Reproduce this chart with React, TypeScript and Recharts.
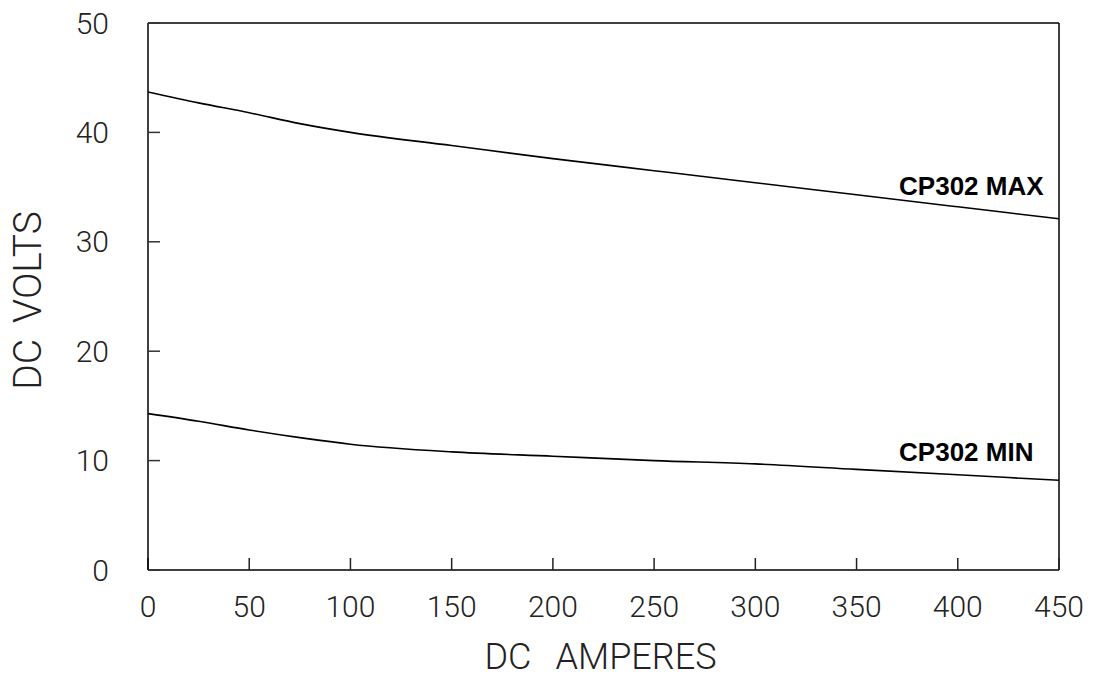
import { LineChart, Line, XAxis, YAxis, ReferenceLine, ReferenceDot, Label } from "recharts";

const amps = [0, 25, 50, 75, 100, 150, 200, 250, 300, 350, 400, 450];
const maxVolts = [43.7, 42.7, 41.8, 40.8, 40.0, 38.8, 37.6, 36.5, 35.4, 34.3, 33.2, 32.1];
const minVolts = [14.3, 13.6, 12.8, 12.1, 11.5, 10.8, 10.4, 10.0, 9.7, 9.2, 8.7, 8.2];

const xTicks = [0, 50, 100, 150, 200, 250, 300, 350, 400, 450];
const yTicks = [0, 10, 20, 30, 40, 50];

const notes = [
  { text: "CP302 MAX", amps: 371, volts: 34.3 },
  { text: "CP302 MIN", amps: 371, volts: 10.0 },
];

const data = amps.map((a, i) => ({ amps: a, max: maxVolts[i], min: minVolts[i] }));

const tickFont = { fontFamily: "Roboto", fontWeight: 300, fontSize: 30, fill: "#222" };
const titleFont = { fontFamily: "Roboto", fontWeight: 300, fontSize: 36, fill: "#222" };

function XTitle({ viewBox }: any) {
  const cx = viewBox.x + viewBox.width / 2 - 3;
  return (
    <text x={cx} y={viewBox.y + 99} textAnchor="middle" style={titleFont}>
      <tspan>DC</tspan>
      <tspan dx={24}>AMPERES</tspan>
    </text>
  );
}

function YTitle({ viewBox }: any) {
  const x = 41;
  const y = viewBox.y + viewBox.height / 2 + 4;
  return (
    <text x={x} y={y} textAnchor="middle" transform={`rotate(-90 ${x} ${y})`} style={{ ...titleFont, fontSize: 39 }}>
      <tspan>DC</tspan>
      <tspan dx={16}>VOLTS</tspan>
    </text>
  );
}

function NoteLabel({ viewBox, value }: any) {
  return (
    <text
      x={viewBox.x}
      y={viewBox.y}
      textAnchor="start"
      style={{ fontFamily: "Liberation Sans", fontWeight: 700, fontSize: 26, fill: "#000" }}
    >
      {value}
    </text>
  );
}

export default function App() {
  return (
    <div style={{ position: "absolute", left: 0, top: 0, background: "#fff" }}>
      <LineChart width={1093} height={679} data={data} margin={{ top: 23, right: 34, bottom: 0, left: 0 }}>
        <XAxis
          dataKey="amps"
          type="number"
          domain={[0, 450]}
          ticks={xTicks}
          height={109}
          tickSize={-12}
          tickMargin={38}
          tick={tickFont}
          axisLine={{ stroke: "#000", strokeWidth: 1.5 }}
          tickLine={{ stroke: "#222", strokeWidth: 1.5 }}
        >
          <Label content={<XTitle />} />
        </XAxis>
        <YAxis
          type="number"
          domain={[0, 50]}
          ticks={yTicks}
          width={148}
          tickSize={-12}
          tickMargin={51}
          tick={tickFont}
          axisLine={{ stroke: "#000", strokeWidth: 1.5 }}
          tickLine={{ stroke: "#333", strokeWidth: 1.5 }}
        >
          <Label content={<YTitle />} />
        </YAxis>
        <ReferenceLine y={50} stroke="#000" strokeWidth={1.5} />
        <ReferenceLine x={450} stroke="#000" strokeWidth={1.5} />
        <Line type="monotone" dataKey="max" stroke="#000" strokeWidth={1.6} dot={false} isAnimationActive={false} />
        <Line type="monotone" dataKey="min" stroke="#000" strokeWidth={1.6} dot={false} isAnimationActive={false} />
        {notes.map((n) => (
          <ReferenceDot key={n.text} x={n.amps} y={n.volts} r={0} fill="none" stroke="none">
            <Label value={n.text} content={<NoteLabel />} />
          </ReferenceDot>
        ))}
      </LineChart>
    </div>
  );
}
